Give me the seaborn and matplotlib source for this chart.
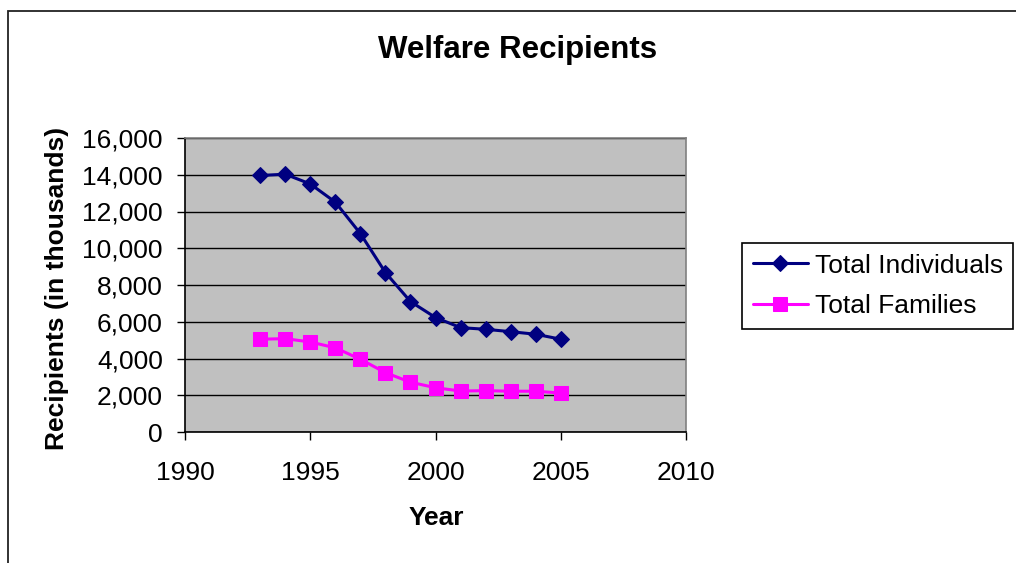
import matplotlib
matplotlib.use("Agg")
import matplotlib.pyplot as plt
import matplotlib.patches as mpatches
from matplotlib.ticker import FuncFormatter, MultipleLocator
import seaborn as sns
import pandas as pd

years = [1993, 1994, 1995, 1996, 1997, 1998, 1999, 2000, 2001, 2002, 2003, 2004, 2005]
individuals = [13960, 14030, 13500, 12510, 10800, 8680, 7100, 6230, 5680, 5590, 5460, 5320, 5050]
families = [5050, 5080, 4900, 4580, 3960, 3230, 2710, 2410, 2230, 2250, 2220, 2220, 2120]
series_names = ["Total Individuals", "Total Families"]
series_colors = ["#000080", "#FF00FF"]

sns.set_style("white")
plt.rcParams["font.family"] = ["Liberation Sans", "DejaVu Sans"]
plt.rcParams["text.color"] = "black"
plt.rcParams["axes.labelcolor"] = "black"
plt.rcParams["xtick.color"] = "black"
plt.rcParams["ytick.color"] = "black"

W, H = 1016, 563
fig = plt.figure(figsize=(W / 100, H / 100), dpi=100)
ax = fig.add_axes([185 / W, 1 - 432 / H, (686 - 185) / W, (432 - 138) / H])
ax.set_facecolor("#C0C0C0")

df = pd.DataFrame({"Year": years, series_names[0]: individuals, series_names[1]: families})

sns.lineplot(data=df, x="Year", y=series_names[0], ax=ax, color=series_colors[0],
             marker="D", markersize=8.5, markeredgecolor=series_colors[0],
             linewidth=2.2, label=series_names[0], zorder=4)
sns.lineplot(data=df, x="Year", y=series_names[1], ax=ax, color=series_colors[1],
             marker="s", markersize=10.5, markeredgecolor=series_colors[1],
             linewidth=2.2, label=series_names[1], zorder=3)

ax.set_xlim(1990, 2010)
ax.set_ylim(0, 16000)
ax.xaxis.set_major_locator(MultipleLocator(5))
ax.yaxis.set_major_locator(MultipleLocator(2000))
ax.yaxis.set_major_formatter(FuncFormatter(lambda v, p: f"{int(v):,}"))
ax.grid(True, axis="y", color="black", linewidth=1.0)
ax.set_axisbelow(True)
ax.set_xlabel("")
ax.set_ylabel("")

for side in ["top", "right"]:
    ax.spines[side].set_color("#808080")
    ax.spines[side].set_linewidth(1.2)
for side in ["left", "bottom"]:
    ax.spines[side].set_color("black")
    ax.spines[side].set_linewidth(1.2)

ax.tick_params(axis="y", direction="out", length=6, width=1, pad=10, labelsize=19, left=True,
               colors="black")
ax.tick_params(axis="x", direction="out", length=6, width=1, pad=15, labelsize=19, bottom=True,
               colors="black")

fig.text(518 / W, 1 - 50 / H, "Welfare Recipients", ha="center", va="center",
         fontsize=22.5, fontweight="bold", color="black")
fig.text(57 / W, 1 - 288 / H, "Recipients (in thousands)", ha="center", va="center",
         rotation=90, fontsize=19, fontweight="bold", color="black")
fig.text(436 / W, 1 - 518 / H, "Year", ha="center", va="center",
         fontsize=19, fontweight="bold", color="black")

handles, labels = ax.get_legend_handles_labels()
if ax.legend_:
    ax.legend_.remove()
leg = fig.legend(handles, labels, loc="upper left",
                 bbox_to_anchor=(742 / W, 1 - 243 / H), bbox_transform=fig.transFigure,
                 fontsize=19, frameon=True, fancybox=False, edgecolor="black",
                 framealpha=1, borderpad=0.4, handlelength=2.1, handletextpad=0.25,
                 labelspacing=0.64, borderaxespad=0)
leg.get_frame().set_linewidth(1.2)
for t in leg.get_texts():
    t.set_color("black")

border = mpatches.Rectangle((8 / W, -0.1), 1.2, 1 - 11 / H + 0.1, transform=fig.transFigure,
                            fill=False, edgecolor="#222222", linewidth=1.3)
fig.patches.append(border)

fig.savefig("out.png", dpi=100)
